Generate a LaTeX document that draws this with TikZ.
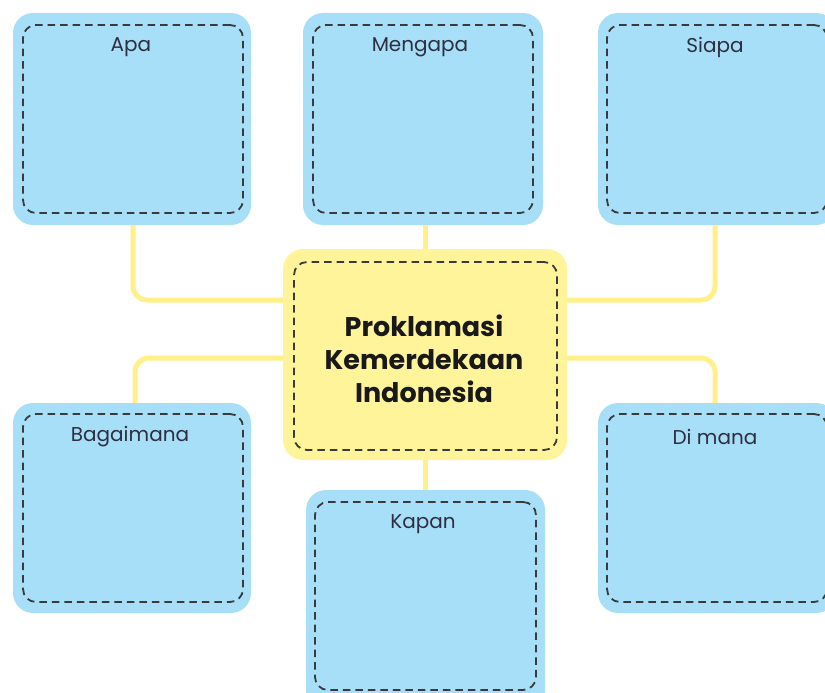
\documentclass[tikz,border=0pt]{standalone}
\usepackage{fontspec}
\setmainfont{Poppins}
\usetikzlibrary{calc}
\definecolor{boxblue}{HTML}{A8DFF8}
\definecolor{boxyellow}{HTML}{FFF49A}
\definecolor{linkyellow}{HTML}{FFF08A}
\definecolor{dashgray}{HTML}{3A3A3A}
\definecolor{labelink}{HTML}{2E2E40}
\tikzset{
  outerbox/.style={rectangle, rounded corners=20pt, fill=boxblue, inner sep=0pt,
    minimum width=238pt, minimum height=212pt},
  innerbox/.style={rectangle, rounded corners=13pt, draw=dashgray, line width=1.8pt,
    dash pattern=on 7.5pt off 5pt, inner sep=0pt, minimum width=220pt, minimum height=188pt},
  qlabel/.style={text=labelink, font=\fontsize{20}{23}\selectfont, inner sep=0pt},
  link/.style={linkyellow, line width=5pt, rounded corners=14pt},
}
\begin{document}
\begin{tikzpicture}[x=1pt,y=-1pt]
\useasboundingbox (0,0) rectangle (825,693);
\clip (0,0) rectangle (825,693);
\fill[white] (0,0) rectangle (825,693);

% central box
\node[outerbox, fill=boxyellow, minimum width=284pt, minimum height=211pt] (center) at (425,354.5) {};
\node[innerbox, minimum width=263pt, minimum height=188pt] (centerin) at (425.5,356) {};
\node[align=center, text=black!90, inner sep=0pt,
      font=\bfseries\fontsize{27}{33}\selectfont] (title) at (424,359)
  {Proklamasi\\Kemerdekaan\\Indonesia};

% outer boxes
\node[outerbox] (apa) at (132,119) {};
\node[outerbox, minimum width=240pt] (mengapa) at (423,119) {};
\node[outerbox] (siapa) at (717,119) {};
\node[outerbox, minimum height=210pt] (bagaimana) at (132,508) {};
\node[outerbox, minimum height=210pt] (dimana) at (717,508) {};
\node[outerbox, minimum width=239pt, minimum height=220pt] (kapan) at (425.5,600) {};

% connectors
\coordinate (cw1) at ($(center.west)+(0,-54.5)$);
\coordinate (ce1) at ($(center.east)+(0,-54.5)$);
\coordinate (cw2) at ($(center.west)+(0,3.5)$);
\coordinate (ce2) at ($(center.east)+(0,3.5)$);
\draw[link] ([xshift=1pt]apa.south) |- (cw1);
\draw[link] ([xshift=-2pt]siapa.south) |- (ce1);
\draw[link] (cw2) -| ([xshift=3pt]bagaimana.north);
\draw[link] (ce2) -| ([xshift=-2pt]dimana.north);
\draw[link] (mengapa.south -| center.north) -- (center.north);
\draw[link] (center.south) -- (center.south |- kapan.north);

% inner dashed frames
\node[innerbox] (apain) at (133,119) {};
\node[innerbox] (mengapain) at (423,119) {};
\node[innerbox] (siapain) at (717,119) {};
\node[innerbox] (bagaimanain) at (133,508) {};
\node[innerbox] (dimanain) at (717,508) {};
\node[innerbox, minimum width=221pt] (kapanin) at (425.5,596) {};

% labels
\node[qlabel] (lapa) at (131,47) {Apa};
\node[qlabel] (lmengapa) at (420,47) {Mengapa};
\node[qlabel] (lsiapa) at (715,47) {Siapa};
\node[qlabel] (lbagaimana) at (130,437) {Bagaimana};
\node[qlabel] (ldimana) at (715,437) {Di mana};
\node[qlabel] (lkapan) at (423,524) {Kapan};
\end{tikzpicture}
\end{document}
